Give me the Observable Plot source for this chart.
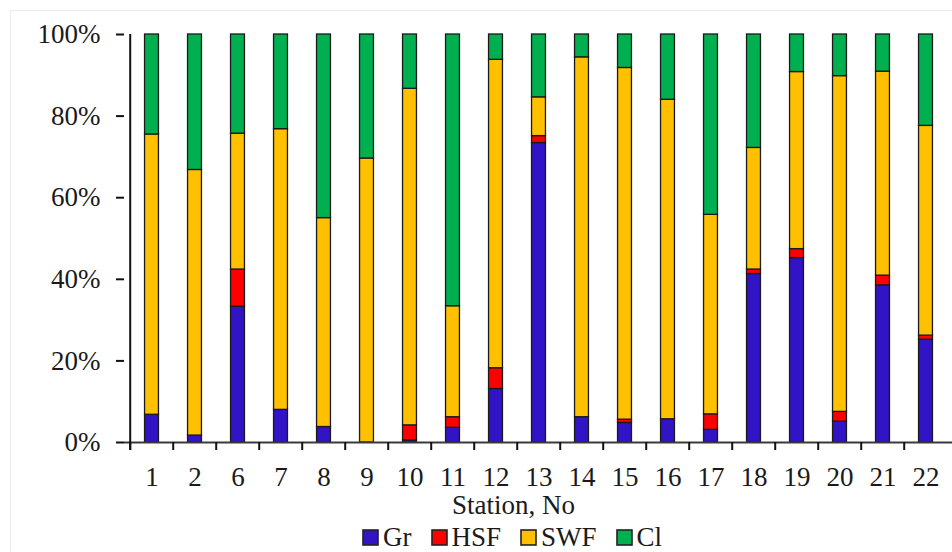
<!DOCTYPE html>
<html>
<head>
<meta charset="utf-8">
<script src="https://cdn.jsdelivr.net/npm/d3@7"></script>
<script src="https://cdn.jsdelivr.net/npm/@observablehq/plot@0.6"></script>
<style>
  html, body { margin: 0; padding: 0; background: #fff; }
  #wrap { position: relative; width: 952px; height: 552px; overflow: hidden; }
  #border { position: absolute; left: 10px; top: 10px; width: 1000px; height: 600px; border: 1px solid #ececec; pointer-events: none; }
  #legend { position: absolute; left: 363px; top: 524px; }
  svg text, .lg-swatches, .lg-swatch { font-family: "Liberation Serif", "Times New Roman", serif !important; }
  .lg-swatches { font-size: 27px !important; color: #1a1a1a !important; line-height: 27px !important; margin: 0 !important; min-height: 0 !important; }
  div .lg-swatch { margin-right: 20px !important; line-height: 27px !important; }
  div .lg-swatch > svg { margin-right: 5px !important; }
  div .lg-swatch > svg rect { stroke: #222; stroke-width: 1.6px; }
</style>
</head>
<body>
<div id="wrap"><div id="border"></div><div id="chart"></div><div id="legend"></div></div>
<script>
const stations = ["1","2","6","7","8","9","10","11","12","13","14","15","16","17","18","19","20","21","22"];
const series = ["Gr","HSF","SWF","Cl"];
const colors = ["#3213C5","#FF0000","#FFC000","#00B050"];
const gr  = [6.8, 1.7, 33.3, 8.0, 3.8, 0.0, 0.5, 3.6, 13.1, 73.4, 6.2, 4.8, 5.7, 3.1, 41.3, 45.2, 5.1, 38.5, 25.2];
const hsf = [0.0, 0.0,  9.1, 0.0, 0.0, 0.0, 3.7, 2.6,  5.1,  1.7, 0.0, 0.8, 0.0, 3.8,  1.1,  2.2, 2.4,  2.4,  1.0];
const swf = [68.7, 65.1, 33.3, 68.8, 51.2, 69.6, 82.5, 27.2, 75.6, 9.5, 88.2, 86.2, 78.3, 48.9, 29.8, 43.4, 82.3, 50.0, 51.4];
const cl  = [24.5, 33.2, 24.3, 23.2, 45.0, 30.4, 13.3, 66.6, 6.2, 15.4, 5.6, 8.2, 16.0, 44.2, 27.8, 9.2, 10.2, 9.1, 22.4];
const yTicks = [0, 20, 40, 60, 80, 100];
const xLabel = "Station, No";

const cols = [gr, hsf, swf, cl];
const data = stations.flatMap((s, i) => series.map((k, j) => ({station: s, series: k, value: cols[j][i]})));

const W = 952, H = 522, mL = 124, mT = 34, mB = 80;
const bw = (W - mL) / stations.length;
const font = "'Liberation Serif', 'Times New Roman', serif";
const fs = 27;

const chart = Plot.plot({
  width: W, height: H,
  marginLeft: mL, marginRight: 0, marginTop: mT, marginBottom: mB,
  style: {fontFamily: font, fontSize: fs + "px", color: "#111", background: "transparent", overflow: "visible"},
  x: {domain: stations, padding: 0},
  y: {domain: [0, 100]},
  color: {domain: series, range: colors},
  marks: [
    Plot.barY(data, {x: "station", y: "value", fill: "series", stroke: "#1a1a1a", strokeWidth: 1.3,
      insetLeft: (bw - 14.5) / 2, insetRight: (bw - 14.5) / 2, order: series}),
    Plot.ruleY([0], {stroke: "#3a3a3a", strokeWidth: 2}),
    Plot.ruleX(stations, {x: d => d, dx: -bw / 2, insetTop: H - mT - mB, insetBottom: -8, stroke: "#111", strokeWidth: 2}),
    Plot.ruleX([stations[0]], {x: d => d, dx: -bw / 2, insetBottom: -8, stroke: "#111", strokeWidth: 2}),
    Plot.axisY({ticks: yTicks, tickFormat: d => d + "%", tickSize: 8, tickPadding: 16, strokeWidth: 2, label: null, fill: "#1a1a1a", fontSize: fs}),
    Plot.axisX({tickSize: 0, tickPadding: 24, label: null, fill: "#1a1a1a", fontSize: fs}),
    Plot.text([xLabel], {frameAnchor: "bottom", lineAnchor: "middle", dy: 62.5, dx: -25, fontSize: fs, fill: "#1a1a1a"})
  ]
});
document.getElementById("chart").appendChild(chart);

const legend = Plot.legend({color: {domain: series, range: colors}, swatchSize: 15, className: "lg"});
document.getElementById("legend").appendChild(legend);
</script>
</body>
</html>
